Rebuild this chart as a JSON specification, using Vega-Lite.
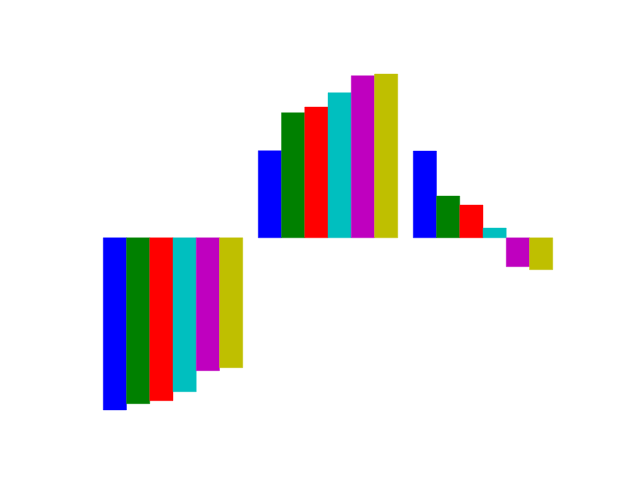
{
  "$schema": "https://vega.github.io/schema/vega-lite/v6.json",
  "width": 640,
  "height": 480,
  "autosize": {"type": "fit", "contains": "padding"},
  "padding": {"left": 80, "right": 64, "top": 57.6, "bottom": 52.8},
  "background": "white",
  "view": {"stroke": null},
  "data": {
    "values": [
      {"group": "G1", "series": "s1", "value": -172.2},
      {"group": "G1", "series": "s2", "value": -165.9},
      {"group": "G1", "series": "s3", "value": -162.9},
      {"group": "G1", "series": "s4", "value": -153.9},
      {"group": "G1", "series": "s5", "value": -132.9},
      {"group": "G1", "series": "s6", "value": -129.9},
      {"group": "G2", "series": "s1", "value": 87.1},
      {"group": "G2", "series": "s2", "value": 125.1},
      {"group": "G2", "series": "s3", "value": 130.8},
      {"group": "G2", "series": "s4", "value": 145.1},
      {"group": "G2", "series": "s5", "value": 162.1},
      {"group": "G2", "series": "s6", "value": 163.8},
      {"group": "G3", "series": "s1", "value": 86.8},
      {"group": "G3", "series": "s2", "value": 41.8},
      {"group": "G3", "series": "s3", "value": 32.8},
      {"group": "G3", "series": "s4", "value": 9.8},
      {"group": "G3", "series": "s5", "value": -28.9},
      {"group": "G3", "series": "s6", "value": -31.9}
    ]
  },
  "mark": {"type": "bar", "strokeWidth": 0.4, "fillOpacity": 1, "strokeOpacity": 1},
  "encoding": {
    "x": {
      "field": "group", "type": "nominal", "axis": null,
      "scale": {"paddingInner": 0.1, "paddingOuter": 0.15}
    },
    "xOffset": {
      "field": "series", "type": "nominal",
      "scale": {"paddingInner": 0, "paddingOuter": 0}
    },
    "y": {
      "field": "value", "type": "quantitative", "axis": null, "stack": null,
      "scale": {"domain": [-189.4, 180.2], "nice": false, "zero": true}
    },
    "color": {
      "field": "series", "type": "nominal", "legend": null,
      "scale": {
        "domain": ["s1", "s2", "s3", "s4", "s5", "s6"],
        "range": ["#0000ff", "#008000", "#ff0000", "#00bfbf", "#bf00bf", "#bfbf00"]
      }
    },
    "stroke": {
      "field": "series", "type": "nominal", "legend": null,
      "scale": {
        "domain": ["s1", "s2", "s3", "s4", "s5", "s6"],
        "range": ["#0000ff", "#008000", "#ff0000", "#00bfbf", "#bf00bf", "#bfbf00"]
      }
    }
  }
}
